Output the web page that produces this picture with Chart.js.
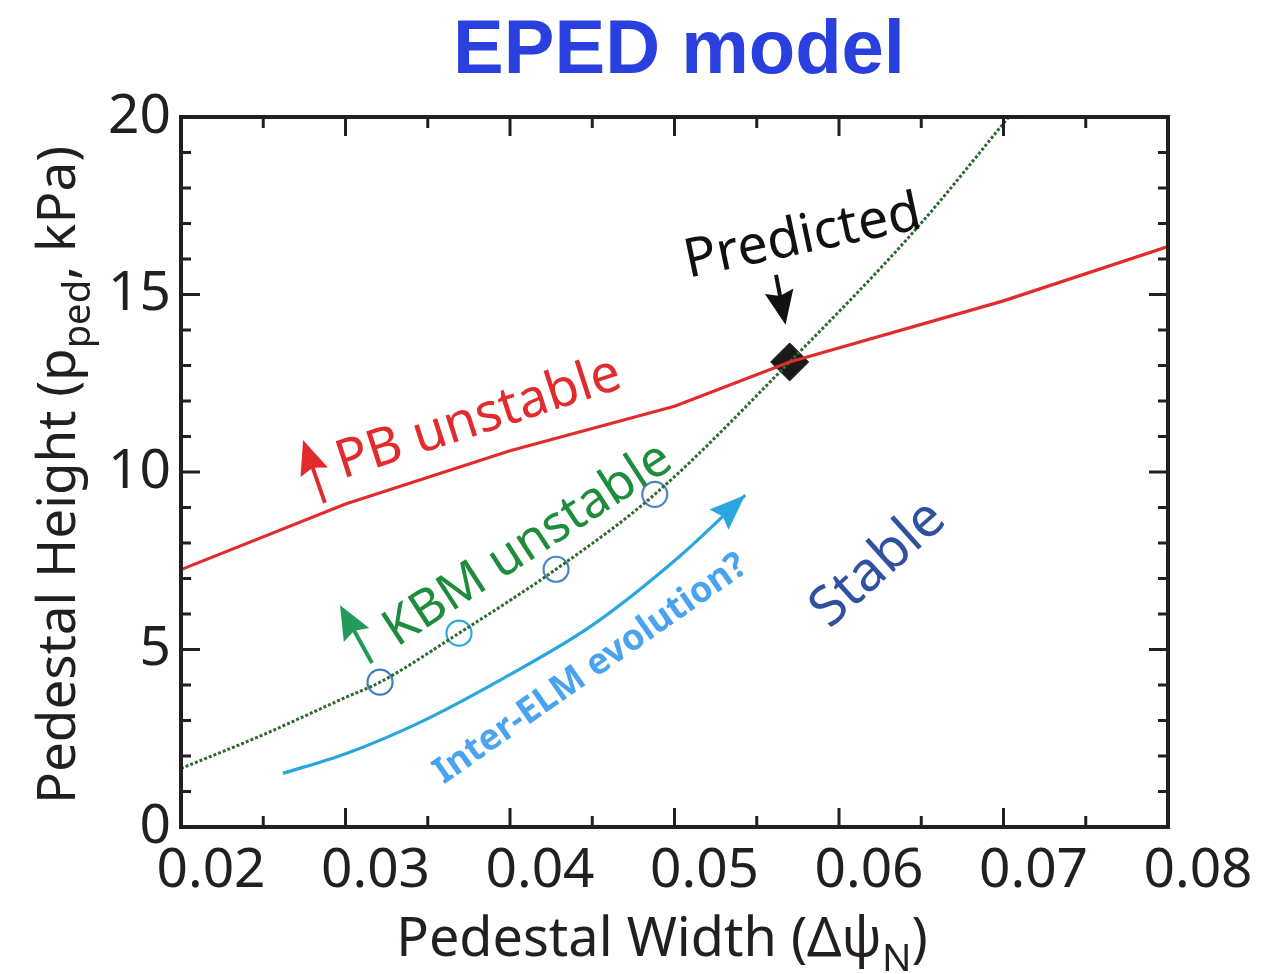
<!DOCTYPE html>
<html>
<head>
<meta charset="utf-8">
<title>EPED model</title>
<script src="https://cdn.jsdelivr.net/npm/chart.js@4.4.1/dist/chart.umd.min.js"></script>
<style>
    html, body { margin: 0; padding: 0; background: #fff; }
    #wrap { width: 1269px; height: 974px; }
</style>
</head>
<body>
<div id="wrap"><canvas id="epedChart" width="1269" height="974"></canvas></div>
<script>
// PB (peeling-ballooning) stability boundary
const pbWidth = [0.02, 0.03, 0.04, 0.05, 0.057, 0.07, 0.08];
const pbHeight = [7.25, 9.1, 10.6, 11.85, 13.1, 14.82, 16.35];

// KBM constraint (dotted)
const kbmWidth = [0.02, 0.025, 0.03, 0.0321, 0.0369, 0.0428, 0.0488, 0.057, 0.0646, 0.0705];
const kbmHeight = [1.65, 2.6, 3.65, 4.08, 5.46, 7.26, 9.37, 13.1, 16.8, 20.1];

// open circles on the KBM curve
const circleWidth = [0.0321, 0.0369, 0.0428, 0.0488];
const circleHeight = [4.08, 5.46, 7.26, 9.37];

// inter-ELM evolution path
const elmWidth = [0.0262, 0.0301, 0.0344, 0.0394, 0.0449, 0.0503, 0.0543];
const elmHeight = [1.51, 2.08, 2.92, 4.14, 5.65, 7.62, 9.35];

// predicted point
const predictedWidth = [0.057];
const predictedHeight = [13.1];

// axes
const xMajor = [0.02, 0.03, 0.04, 0.05, 0.06, 0.07, 0.08];
const xTickLabels = ['0.02', '0.03', '0.04', '0.05', '0.06', '0.07', '0.08'];
const yMajor = [0, 5, 10, 15, 20];
const yTickLabels = ['0', '5', '10', '15', '20'];

const INK = '#231f20';
const FONT = "'Noto Sans', 'DejaVu Sans', sans-serif";

// text annotations, placed in data units
const notes = [
    { text: 'PB unstable', x: 0.0381, y: 11.5, angle: -18, color: '#e12b2d', font: '53px ' + FONT },
    { text: 'KBM unstable', x: 0.0411, y: 7.95, angle: -33, color: '#1e8c3c', font: '51px ' + FONT },
    { text: 'Predicted', x: 0.0578, y: 16.6, angle: -12, color: '#111', font: '54px ' + FONT },
    { text: 'Inter-ELM evolution?', x: 0.0449, y: 4.45, angle: -35, color: '#4aa3f0', font: 'bold 36px ' + FONT },
    { text: 'Stable', x: 0.0624, y: 7.4, angle: -42, color: '#3050a0', font: '55px ' + FONT }
];

// annotation arrows: tail -> tip, in data units
const arrows = [
    { x1: 0.02875, y1: 9.13, x2: 0.02742, y2: 10.9, color: '#e12b2d' },
    { x1: 0.03161, y1: 4.62, x2: 0.02967, y2: 6.25, color: '#23995a' },
    { x1: 0.05617, y1: 15.55, x2: 0.05675, y2: 14.15, color: '#111' }
];

function toPoints(xs, ys) {
    return xs.map((x, i) => ({ x: x, y: ys[i] }));
}

function buildTicks(min, max, step) {
    const ticks = [];
    const n = Math.round((max - min) / step);
    for (let i = 0; i <= n; i++) {
        ticks.push({ value: +(min + i * step).toFixed(6) });
    }
    return ticks;
}

function labelFor(value, majors, labels) {
    const i = majors.findIndex(m => Math.abs(m - value) < 1e-9);
    return i >= 0 ? labels[i] : '';
}

function isMajor(value, majors) {
    return majors.some(m => Math.abs(m - value) < 1e-9);
}

/**
 * draw a filled arrowhead at (x, y) pointing along angle
 */
function arrowHead(ctx, x, y, angle, len, width, color) {
    ctx.save();
    ctx.translate(x, y);
    ctx.rotate(angle);
    ctx.fillStyle = color;
    ctx.beginPath();
    ctx.moveTo(0, 0);
    ctx.lineTo(-len, -width / 2);
    ctx.lineTo(-len * 0.86, 0);
    ctx.lineTo(-len, width / 2);
    ctx.closePath();
    ctx.fill();
    ctx.restore();
}

/**
 * text with subscripts: parts = [[text, isSub], ...]
 */
function drawRich(ctx, parts, cx, cy, size) {
    const subSize = size * 0.72;
    let total = 0;
    parts.forEach(p => {
        ctx.font = (p[1] ? subSize : size) + 'px ' + FONT;
        total += ctx.measureText(p[0]).width;
    });
    let x = cx - total / 2;
    ctx.textAlign = 'left';
    ctx.textBaseline = 'alphabetic';
    parts.forEach(p => {
        ctx.font = (p[1] ? subSize : size) + 'px ' + FONT;
        ctx.fillText(p[0], x, cy + (p[1] ? size * 0.28 : 0));
        x += ctx.measureText(p[0]).width;
    });
}

// frame with inward ticks on all four sides
const frameTicks = {
    id: 'frameTicks',
    afterDatasetsDraw(chart) {
        const ctx = chart.ctx;
        const a = chart.chartArea;
        const xs = chart.scales.x;
        const ys = chart.scales.y;
        ctx.save();
        ctx.strokeStyle = INK;
        ctx.lineWidth = 3;
        ctx.beginPath();
        xs.ticks.forEach(t => {
            const px = xs.getPixelForValue(t.value);
            const len = isMajor(t.value, xMajor) ? 19 : 11;
            ctx.moveTo(px, a.bottom); ctx.lineTo(px, a.bottom - len);
            ctx.moveTo(px, a.top); ctx.lineTo(px, a.top + len);
        });
        ys.ticks.forEach(t => {
            const py = ys.getPixelForValue(t.value);
            const len = isMajor(t.value, yMajor) ? 19 : 10;
            ctx.moveTo(a.left, py); ctx.lineTo(a.left + len, py);
            ctx.moveTo(a.right, py); ctx.lineTo(a.right - len, py);
        });
        ctx.stroke();
        ctx.lineWidth = 4;
        ctx.strokeRect(a.left, a.top, a.right - a.left, a.bottom - a.top);
        ctx.restore();
    }
};

// arrowhead on the inter-ELM path, notes, arrows and titles
const decorations = {
    id: 'decorations',
    afterDraw(chart) {
        const ctx = chart.ctx;
        const xs = chart.scales.x;
        const ys = chart.scales.y;

        // head of the inter-ELM arrow, taken from the last point of its dataset
        const meta = chart.getDatasetMeta(2);
        const last = meta.data[meta.data.length - 1];
        const prev = meta.data[meta.data.length - 2];
        const fromX = last.cp1x !== undefined ? last.cp1x : prev.x;
        const fromY = last.cp1y !== undefined ? last.cp1y : prev.y;
        arrowHead(ctx, last.x, last.y, Math.atan2(last.y - fromY, last.x - fromX), 36, 28, '#2aa6de');

        // annotation arrows
        arrows.forEach(ar => {
            const x1 = xs.getPixelForValue(ar.x1), y1 = ys.getPixelForValue(ar.y1);
            const x2 = xs.getPixelForValue(ar.x2), y2 = ys.getPixelForValue(ar.y2);
            const ang = Math.atan2(y2 - y1, x2 - x1);
            ctx.save();
            ctx.strokeStyle = ar.color;
            ctx.lineWidth = 4;
            ctx.beginPath();
            ctx.moveTo(x1, y1);
            ctx.lineTo(x2 - Math.cos(ang) * 25, y2 - Math.sin(ang) * 25);
            ctx.stroke();
            ctx.restore();
            arrowHead(ctx, x2, y2, ang, 34, 29, ar.color);
        });

        // rotated labels
        notes.forEach(n => {
            ctx.save();
            ctx.translate(xs.getPixelForValue(n.x), ys.getPixelForValue(n.y));
            ctx.rotate(n.angle * Math.PI / 180);
            ctx.font = n.font;
            ctx.fillStyle = n.color;
            ctx.textAlign = 'center';
            ctx.textBaseline = 'middle';
            ctx.fillText(n.text, 0, 0);
            ctx.restore();
        });

        // main title
        ctx.save();
        ctx.fillStyle = '#2a40de';
        ctx.font = "bold 76px 'Liberation Sans', Arial, sans-serif";
        ctx.textAlign = 'center';
        ctx.textBaseline = 'alphabetic';
        ctx.fillText('EPED model', 679, 73);
        ctx.restore();

        // axis titles
        ctx.save();
        ctx.fillStyle = INK;
        drawRich(ctx, [['Pedestal Width (\u0394\u03c8', false], ['N', true], [')', false]], 662, 956, 54);
        ctx.restore();

        ctx.save();
        ctx.fillStyle = INK;
        ctx.translate(75, 475);
        ctx.rotate(-Math.PI / 2);
        drawRich(ctx, [['Pedestal Height (p', false], ['ped', true], [', kPa)', false]], 0, 0, 53);
        ctx.restore();
    }
};

document.addEventListener('DOMContentLoaded', function() {
    Chart.defaults.font.family = FONT;
    Chart.defaults.color = INK;

    new Chart(document.getElementById('epedChart'), {
        type: 'scatter',
        data: {
            datasets: [
                {
                    label: 'PB',
                    data: toPoints(pbWidth, pbHeight),
                    showLine: true,
                    borderColor: '#e12b2d',
                    borderWidth: 3.2,
                    pointRadius: 0,
                    tension: 0
                },
                {
                    label: 'KBM',
                    data: toPoints(kbmWidth, kbmHeight),
                    showLine: true,
                    borderColor: '#2d6a2f',
                    borderWidth: 3,
                    borderDash: [3, 2],
                    pointRadius: 0,
                    cubicInterpolationMode: 'monotone'
                },
                {
                    label: 'Inter-ELM',
                    data: toPoints(elmWidth, elmHeight),
                    showLine: true,
                    borderColor: '#2aa6de',
                    borderWidth: 3.2,
                    pointRadius: 0,
                    cubicInterpolationMode: 'monotone'
                },
                {
                    label: 'circles',
                    data: toPoints(circleWidth, circleHeight),
                    showLine: false,
                    pointRadius: 12.5,
                    pointBorderWidth: 2.2,
                    pointBackgroundColor: '#fff',
                    pointBorderColor: ['#3f7cc4', '#29abe2', '#4a84c8', '#4a84c8']
                },
                {
                    label: 'Predicted',
                    data: toPoints(predictedWidth, predictedHeight),
                    showLine: false,
                    pointStyle: 'rectRot',
                    pointRadius: 19,
                    pointBackgroundColor: '#1a1a1a',
                    pointBorderColor: '#1a1a1a',
                    pointBorderWidth: 1
                }
            ]
        },
        options: {
            responsive: false,
            animation: false,
            layout: { padding: { top: 117, right: 101, left: 0, bottom: 0 } },
            plugins: {
                legend: { display: false },
                tooltip: { enabled: false },
                title: { display: false }
            },
            scales: {
                x: {
                    type: 'linear',
                    min: 0.02,
                    max: 0.08,
                    afterBuildTicks: s => { s.ticks = buildTicks(0.02, 0.08, 0.005); },
                    afterFit: s => { s.height = 147; },
                    grid: { display: false, drawTicks: false },
                    border: { display: false },
                    ticks: {
                        autoSkip: false,
                        maxRotation: 0,
                        padding: 11,
                        labelOffset: 30,
                        font: { size: 55 },
                        color: INK,
                        callback: v => labelFor(v, xMajor, xTickLabels)
                    }
                },
                y: {
                    type: 'linear',
                    min: 0,
                    max: 20,
                    afterBuildTicks: s => { s.ticks = buildTicks(0, 20, 1); },
                    afterFit: s => { s.width = 181; },
                    grid: { display: false, drawTicks: false },
                    border: { display: false },
                    ticks: {
                        autoSkip: false,
                        padding: 10,
                        font: { size: 55 },
                        color: INK,
                        callback: v => labelFor(v, yMajor, yTickLabels)
                    }
                }
            }
        },
        plugins: [frameTicks, decorations]
    });
});
</script>
</body>
</html>
